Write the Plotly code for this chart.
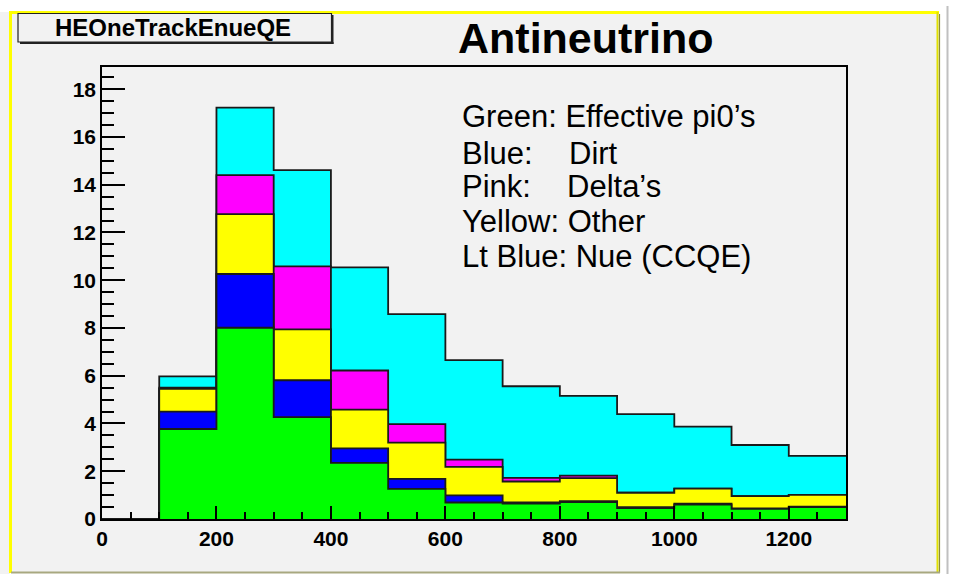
import plotly.graph_objects as go

# ---- data ----
bin_edges = [0, 100, 200, 300, 400, 500, 600, 700, 800, 900, 1000, 1100, 1200, 1300]
green  = [0, 3.77, 8.01, 4.27, 2.35, 1.26, 0.69, 0.65, 0.71, 0.46, 0.60, 0.42, 0.50]   # Effective pi0's
blue   = [0, 0.73, 2.25, 1.54, 0.61, 0.42, 0.30, 0.04, 0.04, 0.04, 0.04, 0.02, 0.02]   # Dirt
yellow = [0, 0.95, 2.51, 2.13, 1.62, 1.52, 1.19, 0.88, 0.96, 0.60, 0.63, 0.52, 0.49]   # Other
pink   = [0, 0.05, 1.63, 2.64, 1.64, 0.77, 0.31, 0.15, 0.11, 0.00, 0.00, 0.00, 0.00]   # Delta's
ltblue = [0, 0.47, 2.83, 4.03, 4.32, 4.61, 4.16, 3.84, 3.34, 3.29, 2.60, 2.14, 1.63]   # Nue (CCQE)

x_ticks = [0, 200, 400, 600, 800, 1000, 1200]
y_ticks = [0, 2, 4, 6, 8, 10, 12, 14, 16, 18]

legend_lines = ["Green: Effective pi0\u2019s", "Blue:", "Pink:", "Yellow: Other", "Lt Blue: Nue (CCQE)"]
legend_extra = {1: "Dirt", 2: "Delta\u2019s"}

# ---- stacking ----
layers = [("green", green, "#00ff00"), ("blue", blue, "#0000ff"), ("yellow", yellow, "#ffff00"),
          ("pink", pink, "#ff00ff"), ("ltblue", ltblue, "#00ffff")]
cum = []
run = [0.0] * len(green)
for name, vals, col in layers:
    run = [a + b for a, b in zip(run, vals)]
    cum.append((name, list(run), col))

fig = go.Figure()
for name, tops, col in reversed(cum):
    fig.add_trace(go.Scatter(
        x=bin_edges, y=tops + [tops[-1]], mode="lines", line_shape="hv",
        line=dict(color="#1a1a1a", width=1.8), fill="tozeroy", fillcolor=col,
        showlegend=False, hoverinfo="skip"))

# ---- layout geometry (pixels) ----
W_, H_ = 955, 574
L, R, T, B = 102, 846, 67, 519
PW, PH = R - L, B - T
def px(x): return (x - L) / PW
def py(y): return (B - y) / PH

FONT = "Liberation Sans, Arial, sans-serif"
shapes = []
# outer left grey strip
shapes.append(dict(type="rect", xref="paper", yref="paper", x0=px(0), x1=px(10), y0=py(574), y1=py(12),
                   fillcolor="#f2f2f2", line=dict(width=0), layer="below"))
# panel
shapes.append(dict(type="rect", xref="paper", yref="paper", x0=px(10), x1=px(939), y0=py(572), y1=py(12),
                   fillcolor="#f2f2f2", line=dict(width=0), layer="below"))
# panel borders
shapes.append(dict(type="line", xref="paper", yref="paper", x0=px(10.5), x1=px(10.5), y0=py(573), y1=py(11.5),
                   line=dict(color="#ffff00", width=3)))
shapes.append(dict(type="line", xref="paper", yref="paper", x0=px(9), x1=px(939), y0=py(12.5), y1=py(12.5),
                   line=dict(color="#ffff00", width=3)))
shapes.append(dict(type="line", xref="paper", yref="paper", x0=px(937.5), x1=px(937.5), y0=py(573), y1=py(12),
                   line=dict(color="#e0e000", width=2)))
shapes.append(dict(type="line", xref="paper", yref="paper", x0=px(939.5), x1=px(939.5), y0=py(573), y1=py(14),
                   line=dict(color="#8a8a40", width=1.2)))
shapes.append(dict(type="line", xref="paper", yref="paper", x0=px(11), x1=px(940), y0=py(572.5), y1=py(572.5),
                   line=dict(color="#a8a880", width=2)))
shapes.append(dict(type="line", xref="paper", yref="paper", x0=px(947.5), x1=px(947.5), y0=py(574), y1=py(6),
                   line=dict(color="#c0c0c0", width=2)))
# title box with shadow
shapes.append(dict(type="rect", xref="paper", yref="paper", x0=px(18), x1=px(331.5), y0=py(42), y1=py(13.5),
                   fillcolor="#f2f2f2", line=dict(color="#222222", width=1.2)))
shapes.append(dict(type="line", xref="paper", yref="paper", x0=px(332.5), x1=px(332.5), y0=py(44), y1=py(15),
                   line=dict(color="#222222", width=2)))
shapes.append(dict(type="line", xref="paper", yref="paper", x0=px(20), x1=px(333.5), y0=py(43), y1=py(43),
                   line=dict(color="#222222", width=2)))

annotations = []
annotations.append(dict(text="<b>HEOneTrackEnueQE</b>", xref="paper", yref="paper", x=px(173), y=py(27),
                        xanchor="center", yanchor="middle", showarrow=False,
                        font=dict(family=FONT, size=24, color="black")))
annotations.append(dict(text="<b>Antineutrino</b>", xref="paper", yref="paper", x=px(585.5), y=py(37.5),
                        xanchor="center", yanchor="middle", showarrow=False,
                        font=dict(family=FONT, size=43, color="black")))
centers = [117, 153.5, 186.5, 221, 256]
for i, (txt, cy) in enumerate(zip(legend_lines, centers)):
    annotations.append(dict(text=txt, xref="paper", yref="paper", x=px(460), y=py(cy),
                            xanchor="left", yanchor="middle", showarrow=False,
                            font=dict(family=FONT, size=31, color="black")))
    if i in legend_extra:
        xs = 567 if i == 1 else 564.5
        annotations.append(dict(text=legend_extra[i], xref="paper", yref="paper", x=px(xs), y=py(cy),
                                xanchor="left", yanchor="middle", showarrow=False,
                                font=dict(family=FONT, size=31, color="black")))

fig.update_layout(
    width=W_, height=H_, margin=dict(l=L, r=W_ - R, t=T, b=H_ - B, pad=0),
    paper_bgcolor="white", plot_bgcolor="#f2f2f2",
    shapes=shapes, annotations=annotations, showlegend=False,
    xaxis=dict(range=[0, 1300], tickvals=x_ticks, ticktext=[str(v) for v in x_ticks],
               ticks="inside", ticklen=13, tickwidth=1.5, tickcolor="black",
               minor=dict(dtick=50, tick0=0, ticks="inside", ticklen=7, tickwidth=1.5, tickcolor="black", showgrid=False),
               showgrid=False, zeroline=False, showline=True, linecolor="black", linewidth=1.5, mirror=True,
               tickfont=dict(family=FONT, size=21, color="black", weight="bold")),
    yaxis=dict(range=[0, 18.93], tickvals=y_ticks, ticktext=[str(v) for v in y_ticks],
               ticks="inside", ticklen=23, tickwidth=1.5, tickcolor="black",
               minor=dict(dtick=0.5, tick0=0, ticks="inside", ticklen=12, tickwidth=1.5, tickcolor="black", showgrid=False),
               showgrid=False, zeroline=False, showline=True, linecolor="black", linewidth=1.5, mirror=True,
               tickfont=dict(family=FONT, size=21, color="black", weight="bold")),
)

fig.write_html("out.html")
